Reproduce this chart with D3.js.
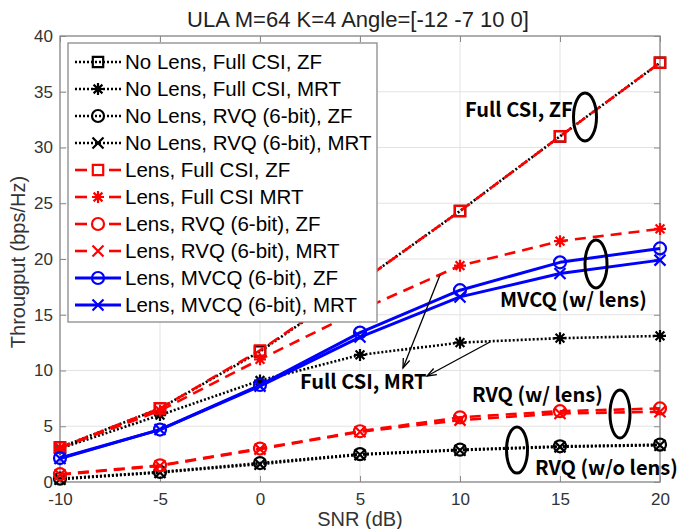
<!DOCTYPE html>
<html><head><meta charset="utf-8">
<script src="https://cdn.jsdelivr.net/npm/d3@7"></script>
<style>body{margin:0;background:#fff}svg{display:block}</style>
</head><body>
<svg id="chart" width="678" height="529"></svg>
<script>
// ---- data ----
const snr = [-10, -5, 0, 5, 10, 15, 20];
const xTicks = [-10, -5, 0, 5, 10, 15, 20];
const yTicks = [0, 5, 10, 15, 20, 25, 30, 35, 40];
const noLensFullZF  = [3.1, 6.6, 11.7, 17.9, 24.3, 31.0, 37.6];
const noLensFullMRT = [3.0, 6.0, 9.1, 11.4, 12.5, 12.9, 13.1];
const noLensRvqZF   = [0.3, 0.9, 1.7, 2.5, 2.9, 3.2, 3.35];
const noLensRvqMRT  = [0.25, 0.85, 1.6, 2.45, 2.85, 3.15, 3.3];
const lensFullZF    = [3.1, 6.6, 11.8, 17.9, 24.3, 31.0, 37.6];
const lensFullMRT   = [3.05, 6.4, 11.0, 15.4, 19.4, 21.6, 22.7];
const lensRvqZF     = [0.7, 1.5, 3.0, 4.55, 5.8, 6.35, 6.6];
const lensRvqMRT    = [0.65, 1.45, 2.95, 4.5, 5.55, 6.15, 6.3];
const lensMvcqZF    = [2.15, 4.7, 8.7, 13.4, 17.2, 19.7, 20.95];
const lensMvcqMRT   = [2.1, 4.7, 8.6, 13.0, 16.6, 18.7, 19.9];
const seriesNames = [
  "No Lens, Full CSI, ZF", "No Lens, Full CSI, MRT", "No Lens, RVQ (6-bit), ZF", "No Lens, RVQ (6-bit), MRT",
  "Lens, Full CSI, ZF", "Lens, Full CSI MRT", "Lens, RVQ (6-bit), ZF", "Lens, RVQ (6-bit), MRT",
  "Lens, MVCQ (6-bit), ZF", "Lens, MVCQ (6-bit), MRT"];
const seriesValues = [noLensFullZF, noLensFullMRT, noLensRvqZF, noLensRvqMRT,
  lensFullZF, lensFullMRT, lensRvqZF, lensRvqMRT, lensMvcqZF, lensMvcqMRT];
const seriesMarkers = ["square","star","circle","x","square","star","circle","x","circle","x"];
const seriesKinds = ["dot","dot","dot","dot","dash","dash","dash","dash","solid","solid"];

// ---- styles ----
const kindStyle = {
  dot:   {color:"#000", width:2.6, dash:"2,2"},
  dash:  {color:"#ff0000", width:2.6, dash:"11,7"},
  solid: {color:"#0000ff", width:3, dash:null}
};

const svg = d3.select("#chart");
const x = d3.scaleLinear().domain([-10, 20]).range([60, 660]);
const y = d3.scaleLinear().domain([0, 40]).range([482, 36]);
const FONT = "'Liberation Sans', Arial, Helvetica, sans-serif";
const fmt = d => String(d);

// grid
const g = svg.append("g");
g.selectAll(".vg").data(xTicks).enter().append("line")
  .attr("x1", d => x(d)).attr("x2", d => x(d)).attr("y1", 36).attr("y2", 482)
  .attr("stroke", "#e3e3e3").attr("stroke-width", 1);
g.selectAll(".hg").data(yTicks).enter().append("line")
  .attr("y1", d => y(d)).attr("y2", d => y(d)).attr("x1", 60).attr("x2", 660)
  .attr("stroke", "#e3e3e3").attr("stroke-width", 1);

// axes
const axCol = "#8a8a8a";
function styleAxis(sel){
  sel.select(".domain").remove();
  sel.selectAll(".tick line").attr("stroke", axCol).attr("stroke-width", 1);
  sel.selectAll(".tick text").attr("fill", "#333").style("font-family", FONT).style("font-size", "17px");
}
svg.append("g").attr("transform", "translate(0,482)")
  .call(d3.axisBottom(x).tickValues(xTicks).tickSizeInner(-6).tickSizeOuter(0).tickPadding(11).tickFormat(fmt))
  .call(styleAxis);
svg.append("g").attr("transform", "translate(0,36)")
  .call(d3.axisTop(x).tickValues(xTicks).tickSizeInner(-6).tickSizeOuter(0).tickFormat(""))
  .call(styleAxis);
svg.append("g").attr("transform", "translate(60,0)")
  .call(d3.axisLeft(y).tickValues(yTicks).tickSizeInner(-6).tickSizeOuter(0).tickPadding(7).tickFormat(fmt))
  .call(styleAxis);
svg.append("g").attr("transform", "translate(660,0)")
  .call(d3.axisRight(y).tickValues(yTicks).tickSizeInner(-6).tickSizeOuter(0).tickFormat(""))
  .call(styleAxis);
svg.append("rect").attr("x", 60).attr("y", 36).attr("width", 600).attr("height", 446)
  .attr("fill", "none").attr("stroke", axCol).attr("stroke-width", 1.3);

// markers
function markerPath(type, cx, cy){
  const p = d3.path();
  if (type === "square"){ const s = 5.2; p.rect(cx - s, cy - s, 2*s, 2*s); }
  else if (type === "circle"){ p.moveTo(cx + 6, cy); p.arc(cx, cy, 6, 0, 2*Math.PI); }
  else if (type === "x"){ const s = 5.5; p.moveTo(cx-s, cy-s); p.lineTo(cx+s, cy+s); p.moveTo(cx-s, cy+s); p.lineTo(cx+s, cy-s); }
  else if (type === "star"){ const s = 6, d = 4.4;
    p.moveTo(cx-s, cy); p.lineTo(cx+s, cy); p.moveTo(cx, cy-s); p.lineTo(cx, cy+s);
    p.moveTo(cx-d, cy-d); p.lineTo(cx+d, cy+d); p.moveTo(cx-d, cy+d); p.lineTo(cx+d, cy-d); }
  return p.toString();
}

const line = d3.line().x(d => x(d[0])).y(d => y(d[1]));
const plot = svg.append("g");
seriesValues.forEach((vals, i) => {
  const st = kindStyle[seriesKinds[i]];
  const pts = snr.map((s, j) => [s, vals[j]]);
  plot.append("path").datum(pts).attr("d", line)
    .attr("fill", "none").attr("stroke", st.color).attr("stroke-width", st.width)
    .attr("stroke-dasharray", st.dash).attr("stroke-linejoin", "round");
  plot.selectAll(null).data(pts).enter().append("path")
    .attr("d", d => markerPath(seriesMarkers[i], x(d[0]), y(d[1])))
    .attr("fill", "none").attr("stroke", st.color).attr("stroke-width", 2.2);
});

// legend
const lg = svg.append("g");
lg.append("rect").attr("x", 68).attr("y", 43).attr("width", 309).attr("height", 279)
  .attr("fill", "#fff").attr("stroke", "#8a8a8a").attr("stroke-width", 1.3);
seriesNames.forEach((name, i) => {
  const cy = 62 + i * 27;
  const st = kindStyle[seriesKinds[i]];
  const row = lg.append("g");
  if (seriesKinds[i] === "dash"){
    row.append("line").attr("x1", 75).attr("x2", 87).attr("y1", cy).attr("y2", cy).attr("stroke", st.color).attr("stroke-width", st.width);
    row.append("line").attr("x1", 109).attr("x2", 121).attr("y1", cy).attr("y2", cy).attr("stroke", st.color).attr("stroke-width", st.width);
  } else {
    row.append("line").attr("x1", 75).attr("x2", 121).attr("y1", cy).attr("y2", cy)
      .attr("stroke", st.color).attr("stroke-width", st.width).attr("stroke-dasharray", st.dash);
  }
  row.append("path").attr("d", markerPath(seriesMarkers[i], 98, cy))
    .attr("fill", "none").attr("stroke", st.color).attr("stroke-width", 2.2);
  row.append("text").attr("x", 125).attr("y", cy + 7).text(name)
    .style("font-family", FONT).style("font-size", "20.5px").attr("fill", "#000");
});

// title & axis labels
svg.append("text").attr("x", 358).attr("y", 27).attr("text-anchor", "middle")
  .text("ULA M=64 K=4 Angle=[-12 -7 10 0]").style("font-family", FONT).style("font-size", "22px").attr("fill", "#222");
svg.append("text").attr("x", 360).attr("y", 526).attr("text-anchor", "middle")
  .text("SNR (dB)").style("font-family", FONT).style("font-size", "20px").attr("fill", "#333");
svg.append("text").attr("transform", "translate(25,262) rotate(-90)").attr("text-anchor", "middle")
  .text("Througput (bps/Hz)").style("font-family", FONT).style("font-size", "20px").attr("fill", "#333");

// annotations
const AF = "'Noto Sans CJK KR', 'Noto Sans', sans-serif";
const ann = svg.append("g");
function label(t, xx, yy, anchor){
  ann.append("text").attr("x", xx).attr("y", yy).attr("text-anchor", anchor || "start").text(t)
    .style("font-family", AF).style("font-weight", "700").style("font-size", "20px").attr("fill", "#000");
}
label("Full CSI, ZF", 465, 117);
label("MVCQ (w/ lens)", 500, 307);
label("Full CSI, MRT", 300, 389);
label("RVQ (w/ lens)", 472, 402);
label("RVQ (w/o lens)", 535, 475);
[[585,117,11.5,24],[596,264,11,24],[620,414,10,24],[517,450,10.5,23]].forEach(e => {
  ann.append("ellipse").attr("cx", e[0]).attr("cy", e[1]).attr("rx", e[2]).attr("ry", e[3])
    .attr("fill", "none").attr("stroke", "#000").attr("stroke-width", 3);
});
function arrow(x1, y1, x2, y2){
  ann.append("line").attr("x1", x1).attr("y1", y1).attr("x2", x2).attr("y2", y2).attr("stroke", "#000").attr("stroke-width", 1.3);
  const a = Math.atan2(y2 - y1, x2 - x1), L = 10, w = 0.35;
  ann.append("path").attr("d", `M${x2 - L*Math.cos(a - w)},${y2 - L*Math.sin(a - w)} L${x2},${y2} L${x2 - L*Math.cos(a + w)},${y2 - L*Math.sin(a + w)}`)
    .attr("fill", "none").attr("stroke", "#000").attr("stroke-width", 1.3);
}
arrow(440, 275, 403, 368);
arrow(490, 342, 427, 376);
</script>
</body></html>
